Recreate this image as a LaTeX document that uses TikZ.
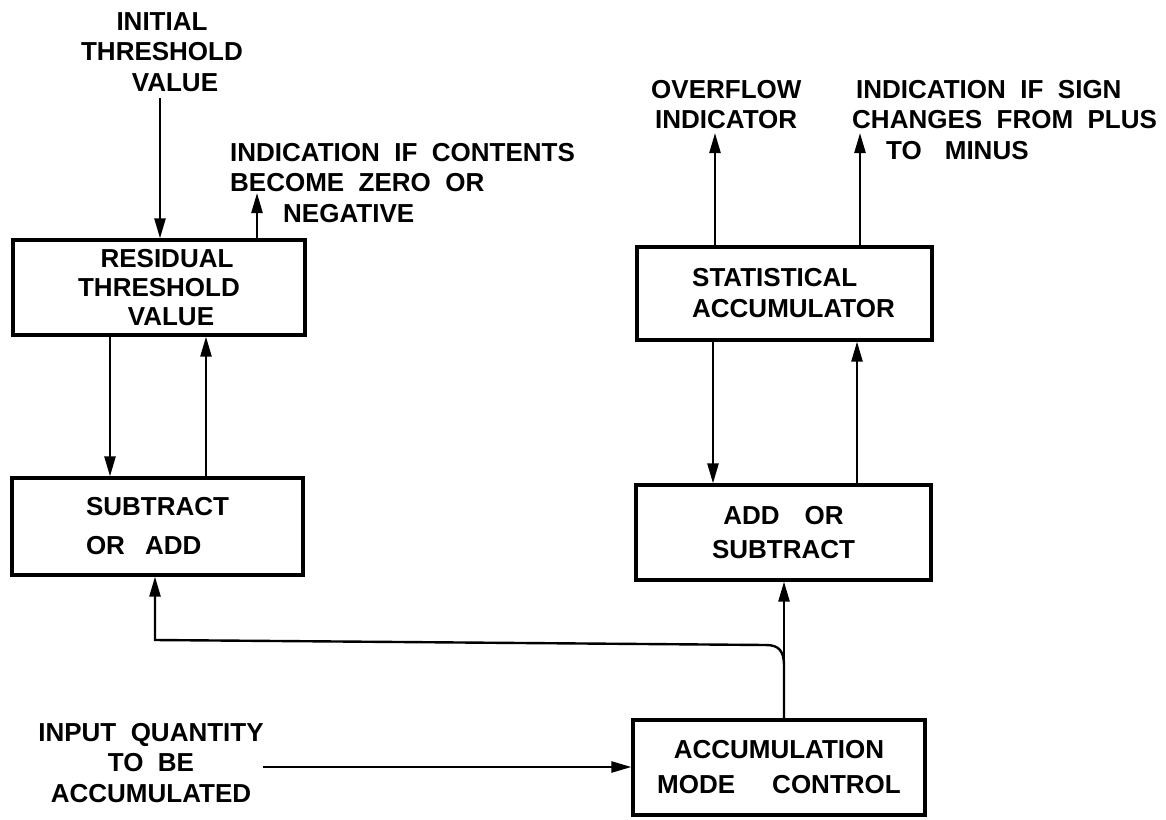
\documentclass[tikz,border=0pt]{standalone}
\usepackage{fontspec}
\setmainfont{Liberation Sans}[WordSpace=2]
\usetikzlibrary{arrows.meta}
\begin{document}
\begin{tikzpicture}[x=1pt,y=-1pt,
  box/.style={draw, line width=3.2pt, rectangle, inner sep=0pt},
  lbl/.style={inner sep=0pt, font=\bfseries\fontsize{26}{30.5}\selectfont},
  arr/.style={line width=2.4pt, -{Triangle[length=20pt,width=11pt]}},
  ln/.style={line width=2.4pt}]
\useasboundingbox[fill=white] (0,0) rectangle (1166,819);

% boxes
\node[box, minimum width=292pt, minimum height=95pt, align=center,
      font=\bfseries\fontsize{26}{29}\selectfont] (res) at (159,287.5)
      {\hspace*{16pt}RESIDUAL\\THRESHOLD\\\hspace*{24pt}VALUE};
\node[box, minimum width=291pt, minimum height=97pt, align=left,
      font=\bfseries\fontsize{26}{39}\selectfont] (sub) at (157.5,526.5)
      {SUBTRACT\\OR\hspace{20pt}ADD};
\node[box, minimum width=295pt, minimum height=93pt, align=left,
      font=\bfseries\fontsize{26}{31}\selectfont] (stat) at (784.5,293.5)
      {\hspace*{18pt}STATISTICAL\\\hspace*{18pt}ACCUMULATOR};
\node[box, minimum width=295pt, minimum height=95pt, align=center,
      font=\bfseries\fontsize{26}{34}\selectfont] (add) at (783.5,532.5)
      {ADD\hspace{25pt}OR\\SUBTRACT};
\node[box, minimum width=292pt, minimum height=95pt, align=center,
      font=\bfseries\fontsize{26}{35}\selectfont] (acc) at (779,767.5)
      {ACCUMULATION\\MODE\hspace{37pt}CONTROL};

% labels
\node[lbl, align=center, anchor=north] (init) at (162,12)
      {INITIAL\\THRESHOLD\\\hspace*{26pt}VALUE};
\node[lbl, align=left, anchor=north west] (indz) at (230,143)
      {INDICATION IF CONTENTS\\BECOME ZERO OR\\\hspace*{53pt}NEGATIVE};
\node[lbl, align=left, anchor=north west] (ovf) at (651,80)
      {OVERFLOW\\\hspace*{4pt}INDICATOR};
\node[lbl, align=left, anchor=north west] (sgn) at (852,80)
      {\hspace*{4pt}INDICATION IF SIGN\\CHANGES FROM PLUS\\\hspace*{34pt}TO\hspace{23pt}MINUS};
\node[lbl, align=center, anchor=north] (inq) at (151,723)
      {INPUT QUANTITY\\TO BE\\ACCUMULATED};

% reference coordinates
\coordinate (xInit) at (160,98);
\coordinate (xInd) at (257,193);
\coordinate (xRd) at (110,0);
\coordinate (xRu) at (206,0);
\coordinate (xOv) at (715,133);
\coordinate (xSg) at (860,133);
\coordinate (xSd) at (713,0);
\coordinate (xSu) at (857,0);
\coordinate (xM) at (784,0);
\coordinate (xL) at (155,640);
\coordinate (bend) at (784,666);
\coordinate (bendL) at (766,645);
\coordinate (inS) at (263,767);

% connectors
\draw[arr] (xInit) -- (xInit |- res.north);
\draw[arr] (xInd |- res.north) -- (xInd);
\draw[arr] (res.south -| xRd) -- (sub.north -| xRd);
\draw[arr] (sub.north -| xRu) -- (res.south -| xRu);
\draw[arr] (stat.north -| xOv) -- (xOv);
\draw[arr] (stat.north -| xSg) -- (xSg);
\draw[arr] (stat.south -| xSd) -- (add.north -| xSd);
\draw[arr] (add.north -| xSu) -- (stat.south -| xSu);
\draw[arr] (acc.north -| xM) -- (add.south -| xM);
\draw[arr] (acc.north -| xM) -- (bend) .. controls (784,651) and (779,645) .. (bendL) -- (xL) -- (sub.south -| xL);
\draw[arr] (inS) -- (inS -| acc.west);
\end{tikzpicture}
\end{document}
